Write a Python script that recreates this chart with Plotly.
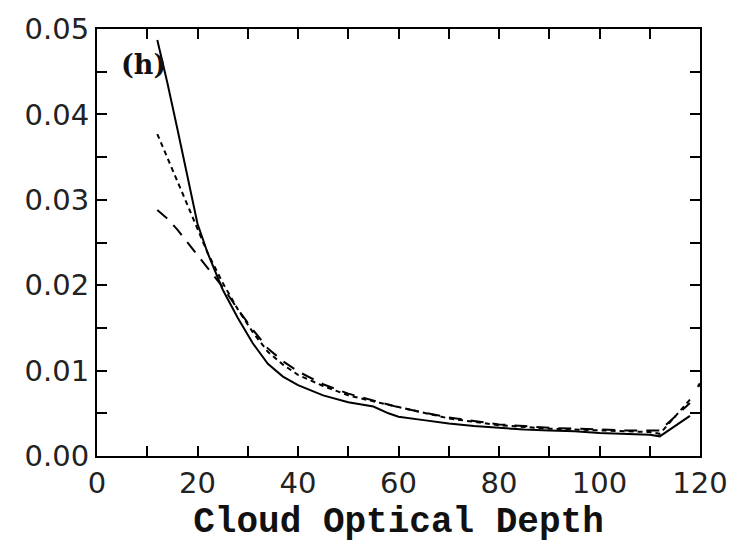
import plotly.graph_objects as go

# x positions (cloud optical depth)
tau = [12, 14, 16, 18, 20, 22, 25, 28, 31, 34, 37, 40, 45, 50, 55, 58, 60,
       65, 70, 75, 80, 85, 90, 95, 100, 105, 110, 112, 118]

solid_vals = [0.0487, 0.0437, 0.0383, 0.0328, 0.0272, 0.0238, 0.0195, 0.0162,
              0.0132, 0.0108, 0.0093, 0.0083, 0.0071, 0.0063, 0.0058, 0.0050,
              0.0046, 0.0042, 0.0038, 0.0035, 0.0033, 0.0031, 0.0030, 0.0029,
              0.0027, 0.0026, 0.0025, 0.0023, 0.0047]

short_dash_vals = [0.0377, 0.0350, 0.0322, 0.0294, 0.0266, 0.0238, 0.0203, 0.0172,
                   0.0145, 0.0122, 0.0107, 0.0095, 0.0082, 0.0071, 0.0064, 0.0060,
                   0.0057, 0.0050, 0.0044, 0.0040, 0.0036, 0.0034, 0.0032, 0.0031,
                   0.0030, 0.0029, 0.0028, 0.0026, 0.0066]

long_dash_tau = tau
long_dash_vals = [0.0288, 0.0278, 0.0265, 0.0250, 0.0235, 0.0220, 0.0198, 0.0172,
                  0.0148, 0.0126, 0.0111, 0.0099, 0.0084, 0.0073, 0.0065, 0.0061,
                  0.0057, 0.0051, 0.0045, 0.0041, 0.0037, 0.0035, 0.0033, 0.0032,
                  0.0031, 0.0030, 0.0030, 0.0030, 0.0062]

# isolated mark at the right edge
edge_tau = [119.6, 120]
edge_vals = [0.0081, 0.0085]

x_tickvals = [0, 10, 20, 30, 40, 50, 60, 70, 80, 90, 100, 110, 120]
x_ticktext = ["0", "", "20", "", "40", "", "60", "", "80", "", "100", "", "120"]
y_tickvals = [0.0, 0.005, 0.01, 0.015, 0.02, 0.025, 0.03, 0.035, 0.04, 0.045, 0.05]
y_ticktext = ["0.00", "", "0.01", "", "0.02", "", "0.03", "", "0.04", "", "0.05"]

panel_label = "(h)"
x_title = "Cloud Optical Depth"

fig = go.Figure()
fig.add_trace(go.Scatter(x=tau, y=solid_vals, mode="lines",
                         line=dict(color="black", width=2), showlegend=False))
fig.add_trace(go.Scatter(x=tau, y=short_dash_vals, mode="lines",
                         line=dict(color="black", width=2, dash="5px,4px"), showlegend=False))
fig.add_trace(go.Scatter(x=long_dash_tau, y=long_dash_vals, mode="lines",
                         line=dict(color="black", width=2, dash="13px,9px"), showlegend=False))
fig.add_trace(go.Scatter(x=edge_tau, y=edge_vals, mode="lines",
                         line=dict(color="black", width=2.5), showlegend=False, cliponaxis=False))

axis_common = dict(showline=True, linecolor="black", linewidth=2, mirror="ticks",
                   ticks="inside", ticklen=10, tickwidth=2, tickcolor="black",
                   showgrid=False, zeroline=False,
                   tickfont=dict(family="DejaVu Sans", size=29, color="#222"))

fig.update_xaxes(range=[0, 120], tickmode="array", tickvals=x_tickvals, ticktext=x_ticktext,
                 title=dict(text="<b>" + x_title + "</b>",
                            font=dict(family="Liberation Mono, Courier New", size=36, color="#111"),
                            standoff=8),
                 **axis_common)
fig.update_yaxes(range=[0, 0.05], tickmode="array", tickvals=y_tickvals, ticktext=y_ticktext,
                 **axis_common)

fig.add_annotation(x=4.4, y=0.0458, text="<b>" + panel_label + "</b>", showarrow=False,
                   xanchor="left", yanchor="middle",
                   font=dict(family="DejaVu Serif, Liberation Serif", size=27, color="#111"))

fig.update_layout(width=740, height=545, margin=dict(l=97, r=37, t=22, b=84),
                  plot_bgcolor="white", paper_bgcolor="white")

fig.write_html("out.html")
